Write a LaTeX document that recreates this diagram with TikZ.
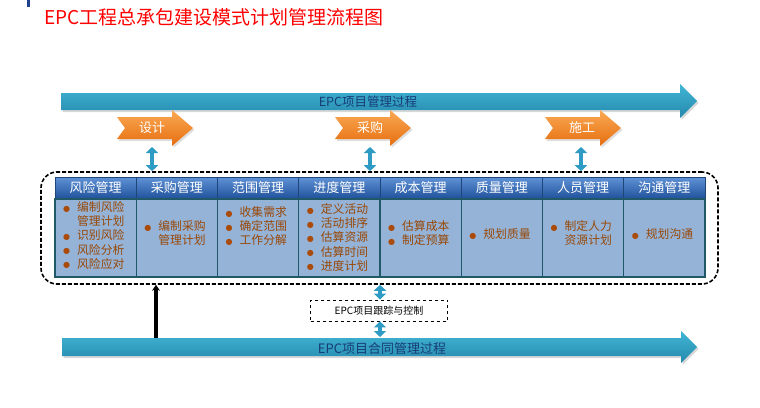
\documentclass[tikz,border=0pt]{standalone}
\usepackage{fontspec}
\setmainfont{Noto Sans CJK SC}
\newfontfamily\dejavu{DejaVu Sans}
\usetikzlibrary{arrows.meta,shadows,calc}
\definecolor{tealtop}{RGB}{66,182,214}
\definecolor{tealbot}{RGB}{36,136,172}
\definecolor{tealtxt}{RGB}{24,60,120}
\definecolor{orgtop}{RGB}{250,170,85}
\definecolor{orgbot}{RGB}{230,110,15}
\definecolor{hdtop}{RGB}{96,146,214}
\definecolor{hdbot}{RGB}{34,84,158}
\definecolor{hdline}{RGB}{30,70,120}
\definecolor{bodyfill}{RGB}{149,179,215}
\definecolor{bodyline}{RGB}{32,88,104}
\definecolor{itemtxt}{RGB}{152,72,7}
\definecolor{bulc}{RGB}{170,75,10}
\definecolor{dblc}{RGB}{45,155,196}
\definecolor{markblue}{RGB}{31,63,143}
\newcommand{\bl}{\textcolor{bulc}{\raisebox{0.5pt}{\dejavu\fontsize{8}{8}\selectfont ●}}}
\newcommand{\itemlist}[1]{\begin{tabular}{@{}l@{\hspace{7pt}}l@{}}#1\end{tabular}}
\begin{document}
\begin{tikzpicture}[x=1pt,y=-1pt,
  tealfill/.style={top color=tealtop,bottom color=tealbot,
    drop shadow={shadow xshift=1.5pt,shadow yshift=-2pt,opacity=0.3}},
  ofill/.style={top color=orgtop,bottom color=orgbot,
    drop shadow={shadow xshift=1.5pt,shadow yshift=-2pt,opacity=0.25}},
  atext/.style={text=tealtxt,inner sep=0},
  otext/.style={text=white,inner sep=0,font=\fontsize{13}{13}\selectfont},
  hdr/.style={minimum width=81.25pt,minimum height=21pt,inner sep=0,
    top color=hdtop,bottom color=hdbot,draw=hdline,line width=0.8pt,
    text=white,font=\fontsize{13}{13}\selectfont},
  bdy/.style={minimum width=81.25pt,minimum height=78pt,inner sep=0,
    fill=bodyfill,draw=bodyline,line width=1.2pt},
  items/.style={anchor=west,inner sep=0,text=itemtxt,
    font=\fontsize{11.8}{13.6}\selectfont},
  dbl/.style={draw=dblc,line width=4.5pt,
    {Triangle[width=12pt,length=6pt]}-{Triangle[width=12pt,length=6pt]}}
]
\useasboundingbox (0,0) rectangle (760,407);
\fill[white] (0,0) rectangle (760,407);

% title
\fill[markblue] (27,0) rectangle (30,7);
\node[anchor=west,inner sep=0,text=red,font=\fontsize{19}{19}\selectfont] (title) at (44,17) {EPC工程总承包建设模式计划管理流程图};

% top process arrow
\path[tealfill] (61,93) -- (680,93) -- (680,84) -- (697,101) -- (680,118) -- (680,110) -- (61,110) -- cycle;
\node[atext,font=\fontsize{12.5}{12.5}\selectfont] (topa) at (368,101.5) {EPC项目管理过程};

% bottom process arrow
\path[tealfill] (62,338) -- (681,338) -- (681,331) -- (697,347) -- (681,363) -- (681,356) -- (62,356) -- cycle;
\node[atext,font=\fontsize{13}{13}\selectfont] (bota) at (382,348.5) {EPC项目合同管理过程};

% orange phase arrows
\foreach \xo in {117,335,545}
  \path[ofill,shift={(\xo,0)}] (0,117) -- (55,117) -- (55,110) -- (76,128) -- (55,146) -- (55,139) -- (0,139) -- (8,128) -- cycle;
\node[otext] (sj) at (152,127.5) {设计};
\node[otext] (cg) at (370,127.5) {采购};
\node[otext] (sg) at (582,127.5) {施工};

% dashed frame
\node[draw,line width=1.6pt,dash pattern=on 4pt off 2pt,rounded corners=16pt,
  minimum width=677pt,minimum height=112pt,inner sep=0] (frame) at (379.5,228) {};

% double arrows between phases and frame
\coordinate (sjb) at (152,147);
\coordinate (cgb) at (370,147);
\coordinate (sgb) at (581,147);
\draw[dbl] (sjb) -- (sjb |- frame.north);
\draw[dbl] (cgb) -- (cgb |- frame.north);
\draw[dbl] (sgb) -- (sgb |- frame.north);

% table
\foreach \i/\t in {1/风险管理,2/采购管理,3/范围管理,4/进度管理,5/成本管理,6/质量管理,7/人员管理,8/沟通管理}{
  \node[hdr] (h\i) at ({55+(\i-0.5)*81.25},187.5) {\t};
  \node[bdy,anchor=north] (b\i) at (h\i.south) {};
}
\node[items] (t1) at (63,237) {\itemlist{\bl&编制风险\\&管理计划\\\bl&识别风险\\\bl&风险分析\\\bl&风险应对}};
\node[items] (t2) at (144.25,235) {\itemlist{\bl&编制采购\\&管理计划}};
\node[items] (t3) at (225.5,228) {\itemlist{\bl&收集需求\\\bl&确定范围\\\bl&工作分解}};
\node[items] (t4) at (306.75,239) {\itemlist{\bl&定义活动\\\bl&活动排序\\\bl&估算资源\\\bl&估算时间\\\bl&进度计划}};
\node[items] (t5) at (388,235) {\itemlist{\bl&估算成本\\\bl&制定预算}};
\node[items] (t6) at (469.25,236) {\itemlist{\bl&规划质量}};
\node[items] (t7) at (550.5,235) {\itemlist{\bl&制定人力\\&资源计划}};
\node[items] (t8) at (631.75,236) {\itemlist{\bl&规划沟通}};

% tracking box
\node[draw,dashed,line width=0.8pt,minimum width=137pt,minimum height=21pt,inner sep=0,
  font=\fontsize{10}{10}\selectfont] (track) at (379,310.5) {EPC项目跟踪与控制};
\coordinate (bottop) at (380,337);
\draw[dbl] (track.north -| bottop) -- (frame.south -| bottop);
\draw[dbl] (track.south -| bottop) -- (bottop);

% black arrow from contract process up to frame
\coordinate (blk) at (156,338);
\draw[line width=3.2pt,-{Stealth[length=6pt,width=8pt]}] (blk) -- (blk |- frame.south);
\end{tikzpicture}
\end{document}
